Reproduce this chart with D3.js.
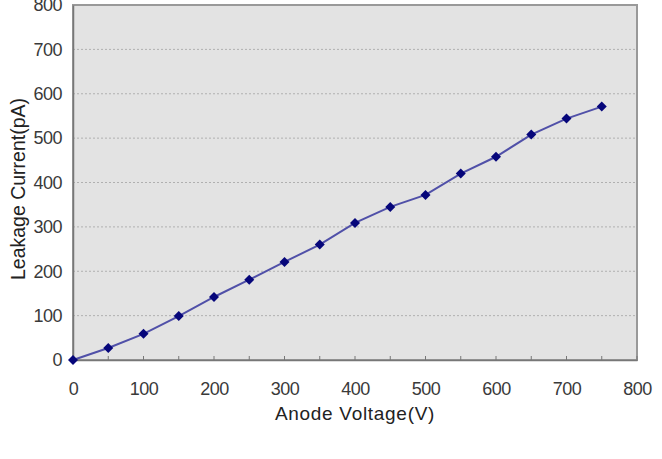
<!DOCTYPE html>
<html>
<head>
<meta charset="utf-8">
<script src="https://cdn.jsdelivr.net/npm/d3@7"></script>
<style>
  body { margin: 0; background: #fff; }
  text { font-family: "Liberation Sans", Arial, sans-serif; }
</style>
</head>
<body>
<svg id="chart"></svg>
<script>
const width = 662;
const height = 459;
const margin = {top: 5, right: 25, bottom: 99, left: 73};

// data
const voltage = [0, 50, 100, 150, 200, 250, 300, 350, 400, 450, 500, 550, 600, 650, 700, 750];
const current = [0, 27, 59, 99, 142, 181, 221, 260, 309, 345, 372, 420, 458, 508, 544, 571];
const xTicks = [0, 100, 200, 300, 400, 500, 600, 700, 800];
const xMinor = [50, 150, 250, 350, 450, 550, 650, 750];
const yTicks = [0, 100, 200, 300, 400, 500, 600, 700, 800];

const svg = d3.select('#chart')
    .attr('width', width)
    .attr('height', height);

const x = d3.scaleLinear().domain([0, 800]).range([margin.left, width - margin.right]);
const y = d3.scaleLinear().domain([0, 800]).range([height - margin.bottom, margin.top]);

// plot background
svg.append('rect')
    .attr('x', x(0))
    .attr('y', y(800))
    .attr('width', x(800) - x(0))
    .attr('height', y(0) - y(800))
    .attr('fill', '#e3e3e3');

// gridlines
svg.append('g')
    .selectAll('line')
    .data(yTicks.filter(d => d > 0 && d < 800))
    .enter()
    .append('line')
        .attr('x1', x(0))
        .attr('x2', x(800))
        .attr('y1', d => y(d))
        .attr('y2', d => y(d))
        .attr('stroke', '#b0b0b0')
        .attr('stroke-width', 1)
        .attr('stroke-dasharray', '2,2');

// border
svg.append('rect')
    .attr('x', x(0))
    .attr('y', y(800))
    .attr('width', x(800) - x(0))
    .attr('height', y(0) - y(800))
    .attr('fill', 'none')
    .attr('stroke', '#999')
    .attr('stroke-width', 2);

// x axis
const xAxis = svg.append('g')
    .attr('transform', `translate(0, ${y(0)})`)
    .call(d3.axisBottom(x).tickValues(xTicks).tickSize(0).tickPadding(22));
xAxis.select('.domain').attr('stroke', '#777').attr('stroke-width', 1.5);
xAxis.selectAll('text').attr('font-size', 18).attr('fill', '#3a3a3a').attr('letter-spacing', -0.5);

// small ticks inside
svg.append('g')
    .selectAll('line')
    .data(xTicks.concat(xMinor))
    .enter()
    .append('line')
        .attr('x1', d => x(d))
        .attr('x2', d => x(d))
        .attr('y1', y(0))
        .attr('y2', y(0) - 4)
        .attr('stroke', '#777');

// y axis
const yAxis = svg.append('g')
    .attr('transform', `translate(${x(0)}, 0)`)
    .call(d3.axisLeft(y).tickValues(yTicks).tickSize(0).tickPadding(11));
yAxis.select('.domain').attr('stroke', '#777').attr('stroke-width', 1.5);
yAxis.selectAll('text').attr('font-size', 18).attr('fill', '#3a3a3a').attr('letter-spacing', -0.5);

// axis titles
svg.append('text')
    .attr('x', (x(0) + x(800)) / 2)
    .attr('y', 420)
    .attr('text-anchor', 'middle')
    .attr('font-family', '"DejaVu Sans", sans-serif')
    .attr('font-size', 19)
    .attr('letter-spacing', 0.7)
    .attr('fill', '#222')
    .text('Anode Voltage(V)');

svg.append('text')
    .attr('transform', 'translate(25, 189) rotate(-90)')
    .attr('text-anchor', 'middle')
    .attr('font-size', 19.5)
    .attr('fill', '#222')
    .text('Leakage Current(pA)');

const points = voltage.map((v, i) => ({v: v, c: current[i]}));

// line
svg.append('path')
    .datum(points)
    .attr('fill', 'none')
    .attr('stroke', '#5050a8')
    .attr('stroke-width', 2)
    .attr('d', d3.line()
        .x(d => x(d.v))
        .y(d => y(d.c)));

// diamond markers
svg.append('g')
    .selectAll('path')
    .data(points)
    .enter()
    .append('path')
        .attr('transform', d => `translate(${x(d.v)}, ${y(d.c)}) rotate(45)`)
        .attr('d', d3.symbol().type(d3.symbolSquare).size(50))
        .attr('fill', '#06067a');
</script>
</body>
</html>
